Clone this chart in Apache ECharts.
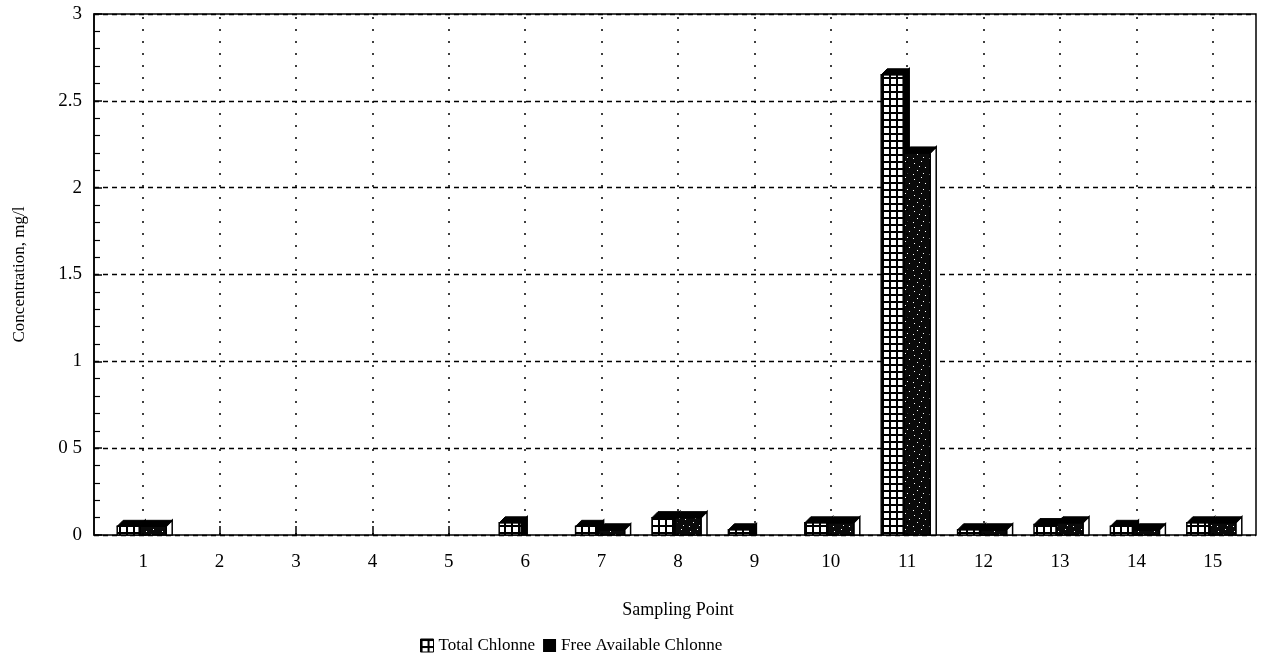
<!DOCTYPE html>
<html><head><meta charset="utf-8">
<script src="https://cdn.jsdelivr.net/npm/echarts@6/dist/echarts.min.js"></script>
<style>html,body{margin:0;padding:0;background:#fff}#c{width:1276px;height:664px}</style>
</head><body><div id="c"></div>
<script>
const categories = ['1','2','3','4','5','6','7','8','9','10','11','12','13','14','15'];
const totalChlorine = [0.05,0,0,0,0,0.07,0.05,0.1,0.03,0.07,2.65,0.03,0.06,0.05,0.07];
const freeChlorine  = [0.05,0,0,0,0,0,0.03,0.1,0,0.07,2.2,0.03,0.07,0.03,0.07];
const yTickLabels = {'0':'0','0.5':'0 5','1':'1','1.5':'1.5','2':'2','2.5':'2.5','3':'3'};
const seriesNames = ['Total Chlonne','Free Available Chlonne'];
const xTitle = 'Sampling Point';
const yTitle = 'Concentration, mg/l';

const FONT = '"Liberation Serif", "DejaVu Serif", serif';

function gridPattern(){
  const c = document.createElement('canvas'); c.width = 7; c.height = 7;
  const g = c.getContext('2d');
  g.fillStyle = '#fff'; g.fillRect(0,0,7,7);
  g.fillStyle = '#000'; g.fillRect(0,0,7,2); g.fillRect(0,0,2,7);
  return {image: c, repeat: 'repeat'};
}
function speckPattern(){
  const c = document.createElement('canvas'); c.width = 16; c.height = 16;
  const g = c.getContext('2d');
  g.fillStyle = '#0a0a0a'; g.fillRect(0,0,16,16);
  g.fillStyle = '#fff';
  [[2,3],[9,1],[13,7],[5,10],[11,13],[1,14],[7,6]].forEach(p=>g.fillRect(p[0],p[1],1,1));
  return {image: c, repeat: 'repeat'};
}
const patTotal = gridPattern();
const patFree = speckPattern();

function makeRender(kind){
  return function(params, api){
    const idx = api.value(0), v = api.value(1);
    if(!(v > 0)) return;
    const base = api.coord([idx, 0]);
    const top = api.coord([idx, v]);
    const cx = base[0];
    const x0 = kind === 0 ? cx - 26 : cx - 3;
    const x1 = kind === 0 ? cx - 4 : cx + 23;
    const d = 6;
    const yb = base[1], yt = top[1];
    return {
      type: 'group',
      children: [
        {type:'polygon', shape:{points:[[x1,yt],[x1+d,yt-d],[x1+d,yb],[x1,yb]]},
          style:{fill: kind===0 ? '#000' : '#fff', stroke:'#000', lineWidth:1.5}},
        {type:'rect', shape:{x:x0, y:yt, width:x1-x0, height:yb-yt},
          style:{fill: kind===0 ? patTotal : patFree, stroke:'#000', lineWidth:1.5}},
        {type:'polygon', shape:{points:[[x0,yt],[x0+d,yt-d],[x1+d,yt-d],[x1,yt]]},
          style:{fill:'#000', stroke:'#000', lineWidth:1}}
      ]
    };
  };
}

const chart = echarts.init(document.getElementById('c'));
chart.setOption({
  backgroundColor: '#fff',
  animation: false,
  textStyle: {fontFamily: FONT, color: '#000'},
  grid: [
    {left: 94, right: 20, top: 14, bottom: 129, show: true, borderColor: '#000', borderWidth: 1.5,
      backgroundColor: 'transparent', containLabel: false, outerBoundsMode: 'none'},
    {left: 105, right: 25, top: 14, bottom: 129, containLabel: false, outerBoundsMode: 'none'}
  ],
  legend: {
    left: 415, top: 632, icon: 'rect', itemWidth: 13, itemHeight: 13, itemGap: 8,
    textStyle: {fontFamily: FONT, fontSize: 17, color: '#000'},
    data: [
      {name: seriesNames[0], itemStyle: {color: patTotal, borderColor: '#000', borderWidth: 1}},
      {name: seriesNames[1], itemStyle: {color: '#000'}}
    ]
  },
  xAxis: [
    {gridIndex: 0, type: 'value', min: 0, max: 1, show: false},
    {gridIndex: 1, type: 'category', data: categories, boundaryGap: true,
      name: xTitle, nameLocation: 'middle', nameGap: 66,
      nameTextStyle: {fontFamily: FONT, fontSize: 18, color: '#000'},
      axisLine: {show: false},
      axisTick: {show: true, inside: true, alignWithLabel: true, length: 9, lineStyle: {color: '#000', width: 1.5}},
      axisLabel: {margin: 18, fontFamily: FONT, fontSize: 19, color: '#000'},
      splitLine: {show: false}}
  ],
  yAxis: [
    {gridIndex: 0, type: 'value', min: 0, max: 3, interval: 0.5,
      name: yTitle, nameLocation: 'middle', nameGap: 66,
      nameTextStyle: {fontFamily: FONT, fontSize: 17, color: '#000'},
      axisLine: {show: true, lineStyle: {color: '#000', width: 1.5}},
      axisTick: {show: true, inside: true, length: 8, lineStyle: {color: '#000', width: 1.5}},
      minorTick: {show: true, splitNumber: 5, length: 6, lineStyle: {color: '#000', width: 1.2}},
      axisLabel: {margin: 12, fontFamily: FONT, fontSize: 19, color: '#000',
        formatter: v => yTickLabels[String(v)] !== undefined ? yTickLabels[String(v)] : String(v)},
      splitLine: {show: true, lineStyle: {color: '#000', width: 1.3, type: [5, 4]}}},
    {gridIndex: 1, type: 'value', min: 0, max: 3, show: false}
  ],
  series: [
    {type: 'line', xAxisIndex: 1, yAxisIndex: 1, data: [], silent: true,
      markLine: {silent: true, symbol: 'none', label: {show: false},
        lineStyle: {color: '#000', width: 1.5, type: [2, 10]},
        data: categories.map(c => ({xAxis: c}))}},
    {name: seriesNames[0], type: 'custom', xAxisIndex: 1, yAxisIndex: 1,
      itemStyle: {color: '#fff', borderColor: '#000'},
      renderItem: makeRender(0), encode: {x: 0, y: 1},
      data: totalChlorine.map((v, i) => [i, v])},
    {name: seriesNames[1], type: 'custom', xAxisIndex: 1, yAxisIndex: 1,
      itemStyle: {color: '#000'},
      renderItem: makeRender(1), encode: {x: 0, y: 1},
      data: freeChlorine.map((v, i) => [i, v])}
  ]
});
</script></body></html>
